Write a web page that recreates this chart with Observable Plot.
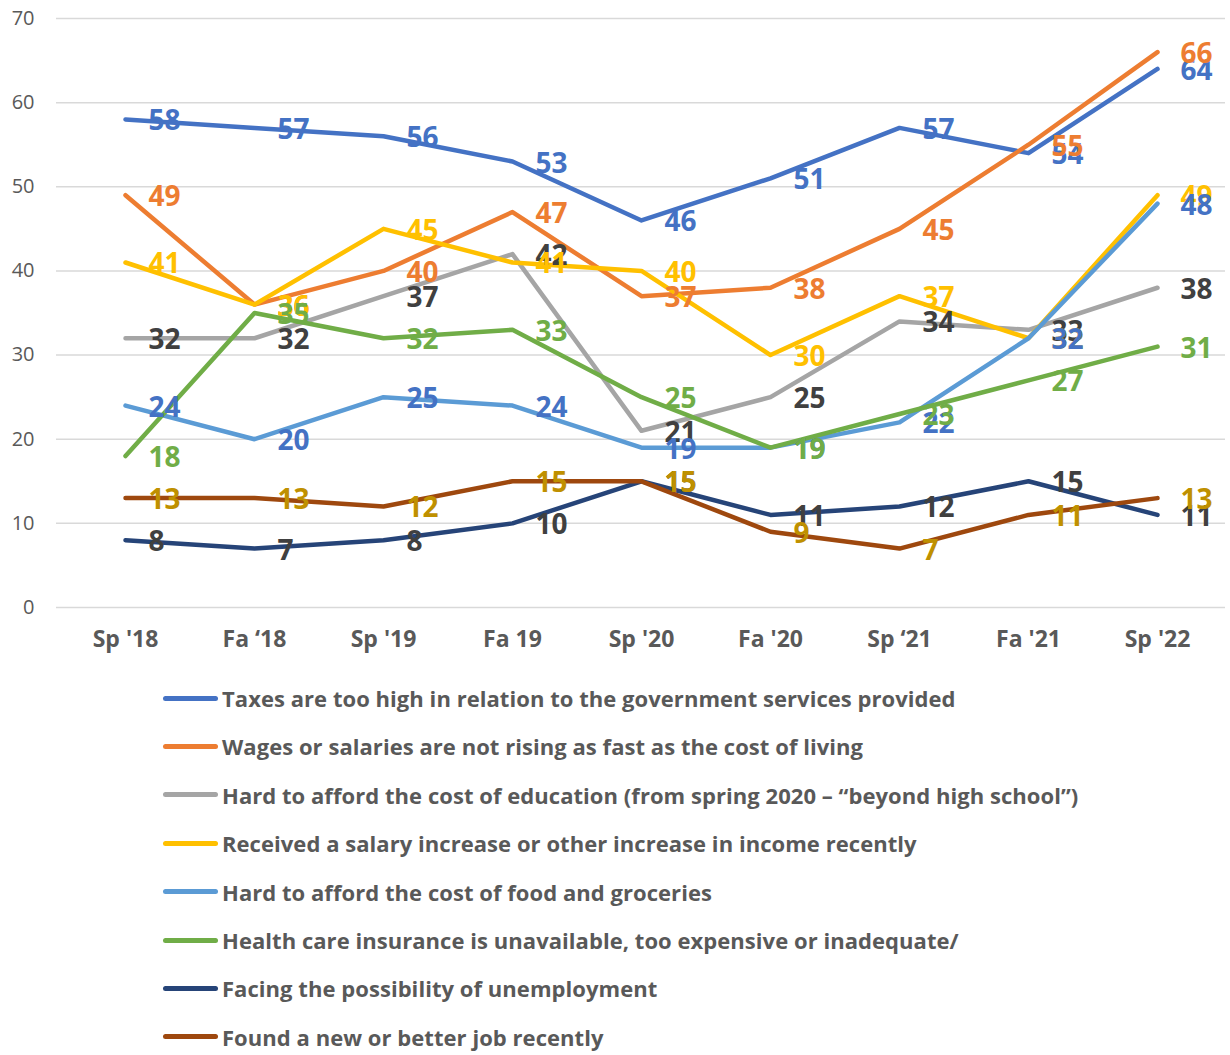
<!DOCTYPE html>
<html><head><meta charset="utf-8">
<script src="https://cdn.jsdelivr.net/npm/d3@7"></script>
<script src="https://cdn.jsdelivr.net/npm/@observablehq/plot@0.6"></script>
<style>
body{margin:0;background:#fff;font-family:"Open Sans",sans-serif;}
#wrap{position:relative;width:1230px;height:1055px;}
#legend{position:absolute;left:0;top:665px;width:1230px;height:390px;}
.row{position:absolute;left:0;height:30px;display:flex;align-items:center;}
.sw{width:55px;height:5px;border-radius:3px;margin-left:163px;}
.lab{margin-left:4px;font-weight:700;font-size:22px;color:#595959;white-space:nowrap;letter-spacing:0.05px;}
</style></head><body>
<div id="wrap"><div id="chart"></div><div id="legend"></div></div>
<script>
const categories = ["Sp '18", "Fa \u201818", "Sp '19", "Fa 19", "Sp '20", "Fa '20", "Sp \u201821", "Fa '21", "Sp '22"];
const yTicks = [0, 10, 20, 30, 40, 50, 60, 70];
const seriesNames = [
  "Taxes are too high in relation to the government services provided",
  "Wages or salaries are not rising as fast as the cost of living",
  "Hard to afford the cost of education (from spring 2020 \u2013 \u201cbeyond high school\u201d)",
  "Received a salary increase or other increase in income recently",
  "Hard to afford the cost of food and groceries",
  "Health care insurance is unavailable, too expensive or inadequate/",
  "Facing the possibility of unemployment",
  "Found a new or better job recently"
];
const lineColors = ["#4472C4", "#ED7D31", "#A5A5A5", "#FFC000", "#5B9BD5", "#70AD47", "#264478", "#9E480E"];
const labelColors = ["#4472C4", "#ED7D31", "#404040", "#FFC000", "#4472C4", "#70AD47", "#404040", "#BF9000"];
const taxes = [58, 57, 56, 53, 46, 51, 57, 54, 64];
const wages = [49, 36, 40, 47, 37, 38, 45, 55, 66];
const education = [32, 32, 37, 42, 21, 25, 34, 33, 38];
const salaryIncrease = [41, 36, 45, 41, 40, 30, 37, 32, 49];
const food = [24, 20, 25, 24, 19, 19, 22, 32, 48];
const health = [18, 35, 32, 33, 25, 19, 23, 27, 31];
const unemployment = [8, 7, 8, 10, 15, 11, 12, 15, 11];
const newJob = [13, 13, 12, 15, 15, 9, 7, 11, 13];
const seriesValues = [taxes, wages, education, salaryIncrease, food, health, unemployment, newJob];

const rows = [];
seriesValues.forEach((vals, s) => {
  vals.forEach((v, i) => rows.push({series: seriesNames[s], cat: categories[i], value: v, color: lineColors[s], labelColor: labelColors[s]}));
});

const chart = Plot.plot({
  width: 1230, height: 665,
  marginLeft: 56, marginRight: 5, marginTop: 18, marginBottom: 58,
  x: {type: "point", domain: categories, padding: 0.5, label: null},
  y: {domain: [0, 70], label: null},
  color: {type: "identity"},
  style: {fontFamily: "'Open Sans', sans-serif", background: "#fff", overflow: "visible"},
  marks: [
    Plot.gridY(yTicks, {stroke: "#D9D9D9", strokeOpacity: 1, strokeWidth: 1.5}),
    Plot.axisY(yTicks, {tickSize: 0, tickPadding: 22, fontSize: 20, fill: "#595959", label: null}),
    Plot.axisX(categories, {tickSize: 0, tickPadding: 23, fontSize: 23, fontWeight: "bold", fill: "#595959", label: null}),
    Plot.line(rows, {x: "cat", y: "value", z: "series", stroke: "color", strokeWidth: 4.5, strokeLinejoin: "round", strokeLinecap: "round"}),
    Plot.text(rows, {x: "cat", y: "value", text: d => String(d.value), fill: "labelColor", textAnchor: "start", dx: 23, dy: 2, fontSize: 28, fontWeight: "bold"})
  ]
});
document.getElementById("chart").appendChild(chart);

const legend = document.getElementById("legend");
seriesNames.forEach((name, i) => {
  const row = document.createElement("div");
  row.className = "row";
  row.style.top = (33 + i * 48.4 - 15) + "px";
  const sw = document.createElement("div");
  sw.className = "sw";
  sw.style.background = lineColors[i];
  const lab = document.createElement("span");
  lab.className = "lab";
  lab.textContent = name;
  row.appendChild(sw); row.appendChild(lab);
  legend.appendChild(row);
});
</script>
</body></html>
